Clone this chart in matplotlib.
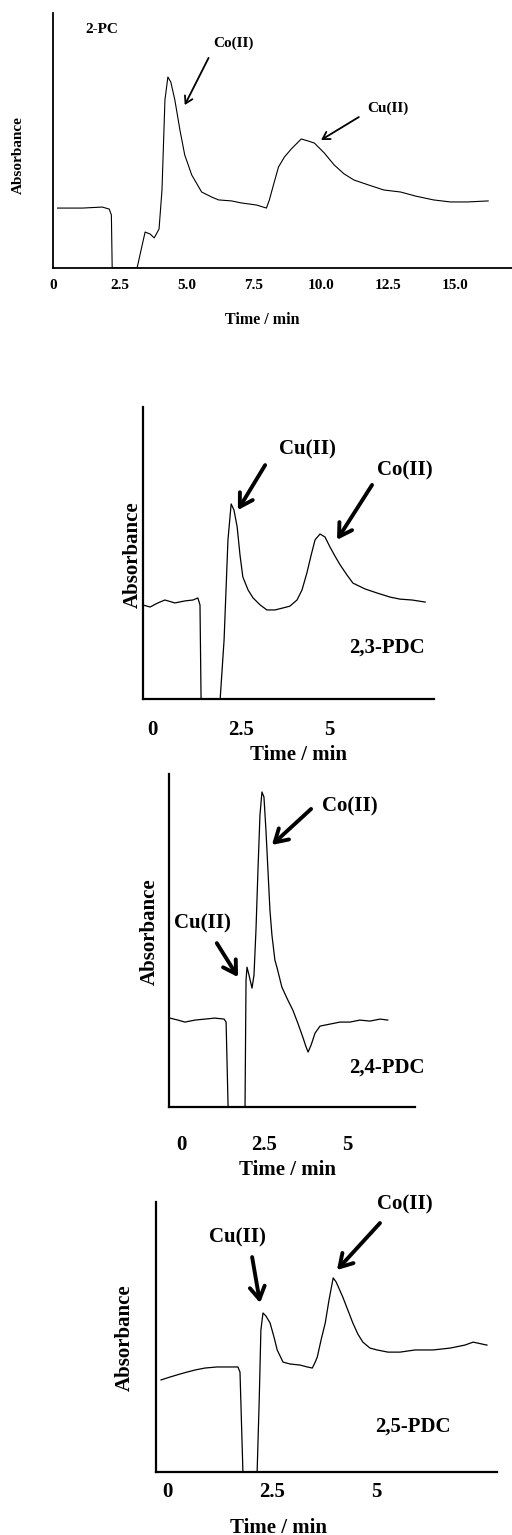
import matplotlib.pyplot as plt

plt.rcParams['font.family'] = ['Liberation Serif', 'DejaVu Serif']
plt.rcParams['font.weight'] = 'bold'
plt.rcParams['axes.labelweight'] = 'bold'

# 2-PC chromatogram
t1 = [0.17, 1.1, 1.84, 2.1, 2.18, 2.21, 3.14, 3.33, 3.44, 3.63, 3.78, 3.96, 4.07, 4.18, 4.29, 4.4,
      4.55, 4.74, 4.92, 5.18, 5.55, 5.93, 6.18, 6.67, 7.04, 7.6, 7.97, 8.08, 8.23, 8.42, 8.64, 8.9,
      9.27, 9.53, 9.76, 10.13, 10.5, 10.87, 11.24, 11.8, 12.35, 12.98, 13.54, 14.21, 14.84, 15.47, 16.25]
a1 = [23.5, 23.5, 23.9, 23.1, 20.8, 0, 0, 9, 14.1, 13.3, 11.8, 15.3, 30.6, 65.9, 74.9, 72.9,
      65.9, 54.1, 44.3, 36.5, 29.8, 27.8, 26.7, 26.3, 25.5, 24.7, 23.5, 26.7, 32.5, 39.6, 43.5, 46.7,
      50.6, 49.8, 49.0, 45.1, 40.4, 36.9, 34.5, 32.5, 30.6, 29.8, 28.2, 26.7, 25.9, 25.9, 26.3]

# 2,3-PDC
t2 = [-0.26, -0.06, 0.16, 0.36, 0.64, 0.93, 1.15, 1.29, 1.35, 1.38, 1.92, 2.03, 2.14, 2.23, 2.31,
      2.40, 2.48, 2.56, 2.71, 2.85, 3.05, 3.24, 3.47, 3.70, 3.89, 4.09, 4.23, 4.37, 4.49, 4.6, 4.74,
      4.88, 5.02, 5.16, 5.31, 5.5, 5.67, 6.01, 6.35, 6.72, 7.0, 7.34, 7.71]
a2 = [32.2, 31.5, 32.9, 33.9, 32.9, 33.6, 33.9, 34.6, 32.2, 0, 0, 20.2, 54.5, 66.8, 64.7,
      58.9, 49.3, 41.8, 37.3, 34.6, 32.2, 30.5, 30.5, 31.2, 31.8, 33.9, 37.3, 43.2, 49.3, 54.5, 56.5,
      55.5, 52.1, 49.0, 45.9, 42.5, 39.7, 37.7, 36.3, 34.9, 34.2, 33.9, 33.2]

# 2,4-PDC
t3 = [-0.33, -0.09, 0.12, 0.42, 0.72, 1.02, 1.30, 1.36, 1.42, 1.93, 1.96, 1.99, 2.05, 2.14, 2.2,
      2.26, 2.32, 2.38, 2.44, 2.5, 2.56, 2.62, 2.68, 2.74, 2.83, 2.89, 3.04, 3.22, 3.37, 3.52, 3.67,
      3.77, 3.83, 3.92, 4.04, 4.19, 4.49, 4.79, 5.09, 5.39, 5.69, 6.0, 6.23]
a3 = [26.7, 26.1, 25.5, 26.1, 26.4, 26.7, 26.4, 25.5, 0, 0, 38.1, 42.0, 39.6, 35.7, 39.6,
      53.2, 71.2, 87.7, 94.6, 93.1, 83.2, 71.2, 59.2, 51.7, 44.1, 42.0, 36.0, 32.1, 29.1, 25.2, 21.0,
      18.0, 16.5, 18.6, 22.2, 24.3, 24.9, 25.5, 25.5, 26.1, 25.8, 26.4, 26.1]

# 2,5-PDC
t4 = [-0.15, 0.07, 0.31, 0.47, 0.67, 0.9, 1.19, 1.45, 1.69, 1.74, 1.81, 2.15, 2.2, 2.24, 2.29,
      2.36, 2.46, 2.56, 2.63, 2.77, 2.94, 3.18, 3.35, 3.47, 3.54, 3.59, 3.68, 3.78, 3.87, 3.97, 4.04,
      4.2, 4.32, 4.44, 4.56, 4.68, 4.85, 5.02, 5.28, 5.57, 5.93, 6.36, 6.77, 7.12, 7.32, 7.65]
a4 = [34.1, 35.2, 36.3, 37.0, 37.8, 38.5, 38.9, 38.9, 38.9, 37.0, 0, 0, 26.7, 52.6, 58.9,
      57.8, 55.2, 49.6, 45.2, 40.7, 40.0, 39.6, 38.9, 38.5, 40.7, 42.6, 48.9, 55.2, 63.7, 71.9, 70.4,
      64.8, 60.0, 55.2, 51.1, 48.1, 45.9, 45.2, 44.4, 44.4, 45.2, 45.2, 45.9, 47.0, 48.1, 47.0]

ticks1 = [0, 2.5, 5, 7.5, 10, 12.5, 15]
ticklabels1 = ['0', '2.5', '5.0', '7.5', '10.0', '12.5', '15.0']
ticks2 = [0, 2.5, 5]
ticklabels2 = ['0', '2.5', '5']

W, H = 512, 1535
fig = plt.figure(figsize=(W / 100, H / 100), dpi=100)


def panel(left, right, bottom, top, xlim):
    ax = fig.add_axes([left / W, 1 - bottom / H, (right - left) / W, (bottom - top) / H])
    ax.set_xlim(xlim)
    ax.set_ylim(0, 100)
    ax.spines['top'].set_visible(False)
    ax.spines['right'].set_visible(False)
    ax.set_yticks([])
    return ax


def arrow(ax, tail, head, lw, hw):
    ax.annotate('', xy=head, xytext=tail,
                arrowprops=dict(arrowstyle=f'->,head_length={hw},head_width={hw * 0.6}',
                                color='k', lw=lw, shrinkA=0, shrinkB=0))


# panel 1
ax = panel(53, 512, 268, 13, (0.1, 17.14))
ax.plot(t1, a1, color='k', lw=0.8)
ax.set_xticks(ticks1, ticklabels1)
ax.tick_params(axis='x', length=0, pad=8, labelsize=11)
for s in ['left', 'bottom']:
    ax.spines[s].set_linewidth(1.3)
ax.text(1.84, 93.7, '2-PC', fontsize=11, ha='center', va='center')
ax.text(6.74, 88.2, 'Co(II)', fontsize=11, ha='center', va='center')
ax.text(12.5, 62.7, 'Cu(II)', fontsize=11, ha='center', va='center')
arrow(ax, (5.81, 82.4), (4.92, 63.9), 1.3, 0.5)
arrow(ax, (11.42, 59.2), (10.01, 50.2), 1.3, 0.5)
ax.set_xlabel('Time / min', fontsize=11.5)
ax.set_ylabel('Absorbance', fontsize=11)
ax.xaxis.set_label_coords(0.455, -0.204)
ax.xaxis.label.set_va('center')
ax.yaxis.set_label_coords(-0.076, 0.443)
ax.yaxis.label.set_va('center')

# panels 2-4
specs = [
    (143, 434, 699, 407, (-0.26, 7.96), t2, a2, 15, -0.192, 0.533, -0.034, 0.493),
    (169, 415, 1107, 774, (-0.36, 7.05), t3, a3, 20, -0.189, 0.48, -0.077, 0.526),
    (156, 497, 1472, 1202, (-0.27, 7.89), t4, a4, 7, -0.207, 0.358, -0.091, 0.496),
]
axes = []
for left, right, bottom, top, xlim, t, a, pad, xly, xlx, ylx, yly in specs:
    ax = panel(left, right, bottom, top, xlim)
    ax.plot(t, a, color='k', lw=0.9)
    ax.set_xticks(ticks2, ticklabels2)
    ax.tick_params(axis='x', length=0, pad=pad, labelsize=15)
    for s in ['left', 'bottom']:
        ax.spines[s].set_linewidth(1.6)
    ax.set_xlabel('Time / min', fontsize=15)
    ax.set_ylabel('Absorbance', fontsize=15)
    ax.xaxis.set_label_coords(xlx, xly)
    ax.xaxis.label.set_va('center')
    ax.yaxis.set_label_coords(ylx, yly)
    ax.yaxis.label.set_va('center')
    axes.append(ax)

ax2, ax3, ax4 = axes
ax2.text(4.38, 85.3, 'Cu(II)', fontsize=15, ha='center', va='center')
ax2.text(7.14, 78.4, 'Co(II)', fontsize=15, ha='center', va='center')
ax2.text(6.63, 17.5, '2,3-PDC', fontsize=15, ha='center', va='center')
arrow(ax2, (3.19, 80.1), (2.42, 64.7), 2.8, 0.9)
arrow(ax2, (6.21, 73.3), (5.22, 54.5), 2.8, 0.9)

ax3.text(5.09, 90.1, 'Co(II)', fontsize=15, ha='center', va='center')
ax3.text(0.66, 55.0, 'Cu(II)', fontsize=15, ha='center', va='center')
ax3.text(6.2, 11.7, '2,4-PDC', fontsize=15, ha='center', va='center')
arrow(ax3, (3.92, 89.5), (2.74, 78.7), 2.8, 0.9)
arrow(ax3, (1.08, 49.2), (1.72, 39.0), 2.8, 0.9)

ax4.text(1.67, 87.0, 'Cu(II)', fontsize=15, ha='center', va='center')
ax4.text(5.69, 98.9, 'Co(II)', fontsize=15, ha='center', va='center')
ax4.text(5.88, 16.7, '2,5-PDC', fontsize=15, ha='center', va='center')
arrow(ax4, (2.03, 79.6), (2.22, 62.6), 2.8, 0.9)
arrow(ax4, (5.09, 92.2), (4.06, 74.8), 2.8, 0.9)

fig.savefig('out.png', dpi=100)
